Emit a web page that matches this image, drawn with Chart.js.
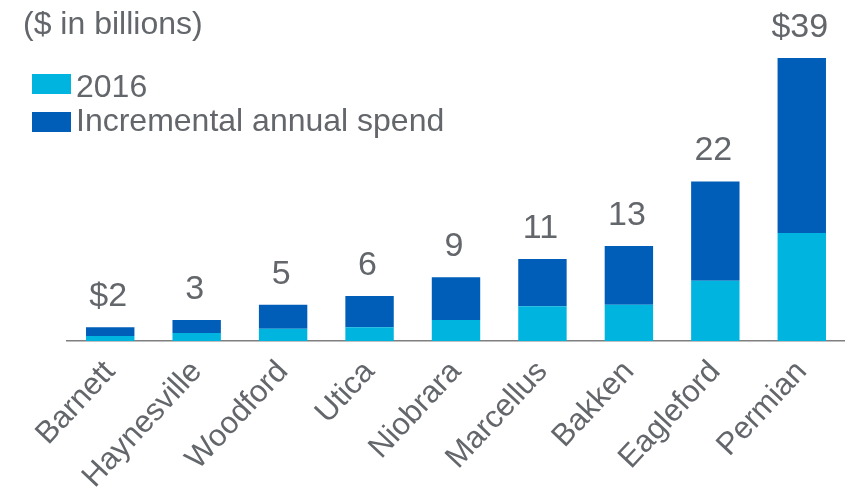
<!DOCTYPE html>
<html>
<head>
<meta charset="utf-8">
<script src="https://cdn.jsdelivr.net/npm/chart.js@4"></script>
<style>
  body { margin: 0; background: #fff; }
  #wrap { position: relative; width: 845px; height: 498px; font-family: "Liberation Sans", Arial, sans-serif; color: #63666a; }
  #chart { position: absolute; left: 0; top: 0; }
  .note { position: absolute; left: 23px; top: 7px; font-size: 32px; line-height: 32px; white-space: nowrap; }
  .leg { position: absolute; left: 32px; font-size: 32px; line-height: 32px; white-space: nowrap; }
  .leg i { position: absolute; left: 0; width: 39px; height: 20px; }
  .leg span { position: absolute; left: 44px; top: 0; }
</style>
</head>
<body>
<div id="wrap">
  <canvas id="chart" width="845" height="498"></canvas>
  <div class="note">($ in billions)</div>
</div>
<script>
// Shale play capex: 2016 spend plus incremental annual spend ($bn)
const plays = ['Barnett', 'Haynesville', 'Woodford', 'Utica', 'Niobrara', 'Marcellus', 'Bakken', 'Eagleford', 'Permian'];
const spend2016 = [0.7, 1.1, 1.7, 1.9, 2.9, 4.8, 5.0, 8.3, 14.9];
const incremental = [1.2, 1.8, 3.3, 4.3, 5.9, 6.5, 8.1, 13.7, 24.1];
const totalLabels = ['$2', '3', '5', '6', '9', '11', '13', '22', '$39'];

const seriesNames = ['2016', 'Incremental annual spend'];
const seriesColors = ['#00b4e0', '#005eb8'];

const FONT = '"Liberation Sans", Arial, sans-serif';
const GREY = '#63666a';

// legend as plain html, one row per series
const legendTops = [70, 104];
seriesNames.forEach((name, i) => {
    const row = document.createElement('div');
    row.className = 'leg';
    row.style.top = legendTops[i] + 'px';
    row.innerHTML = '<i style="top:' + (4 + i * 4) + 'px;background:' + seriesColors[i] + '"></i><span>' + name + '</span>';
    document.getElementById('wrap').appendChild(row);
});

// writes the total above each stacked bar
const totalsPlugin = {
    id: 'totals',
    afterDatasetsDraw(chart) {
        const ctx = chart.ctx;
        const top = chart.getDatasetMeta(1);
        ctx.save();
        ctx.font = '34px ' + FONT;
        ctx.fillStyle = GREY;
        ctx.textAlign = 'center';
        ctx.textBaseline = 'alphabetic';
        top.data.forEach((bar, i) => {
            ctx.fillText(totalLabels[i], bar.x - 2, bar.y - 21);
        });
        ctx.restore();
    }
};

new Chart(document.getElementById('chart'), {
    type: 'bar',
    data: {
        labels: plays,
        datasets: [
            { label: seriesNames[0], data: spend2016, backgroundColor: seriesColors[0] },
            { label: seriesNames[1], data: incremental, backgroundColor: seriesColors[1] }
        ]
    },
    options: {
        responsive: false,
        animation: false,
        layout: { padding: { left: 67, right: 0, top: 14.5, bottom: 0 } },
        datasets: { bar: { barPercentage: 0.56, categoryPercentage: 1 } },
        plugins: {
            legend: { display: false },
            tooltip: { enabled: false }
        },
        scales: {
            x: {
                stacked: true,
                grid: { display: false, drawTicks: false },
                border: { display: true, color: '#7f7f7f', width: 1.5 },
                ticks: {
                    color: GREY,
                    font: { family: FONT, size: 31 },
                    minRotation: 47,
                    maxRotation: 47,
                    padding: 13,
                    autoSkip: false
                },
                afterFit(scale) { scale.height = 157; }
            },
            y: {
                stacked: true,
                display: false,
                min: 0,
                max: 45
            }
        }
    },
    plugins: [totalsPlugin]
});
</script>
</body>
</html>
